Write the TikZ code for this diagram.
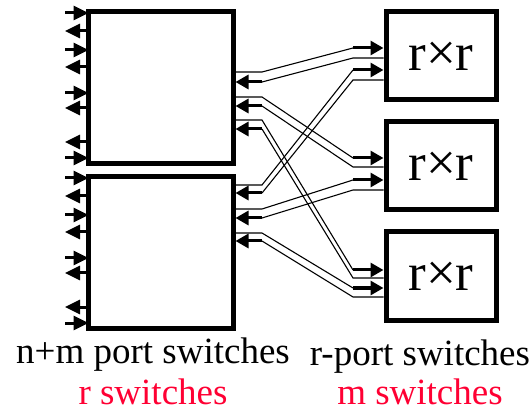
\documentclass[tikz,border=0pt]{standalone}
\usepackage{fontspec}
\setmainfont{Liberation Serif}
\usetikzlibrary{arrows.meta,calc}
\definecolor{labelred}{RGB}{255,0,51}
\begin{document}
\begin{tikzpicture}[x=1pt,y=-1pt,
  bigsw/.style={draw,line width=5pt,minimum width=145pt,minimum height=152pt,inner sep=0pt},
  smallsw/.style={draw,line width=5pt,minimum width=110pt,minimum height=88pt,inner sep=0pt,font=\fontsize{53}{53}\selectfont},
  stub/.style={line width=3pt,-{Triangle[length=15pt,width=14pt]}},
  wire/.style={line width=1.1pt},
  wirehead/.style={line width=3pt,-{Triangle[length=13pt,width=14pt]}},
  lab/.style={anchor=base,font=\fontsize{37}{37}\selectfont,inner sep=0pt}]
\useasboundingbox (0,0) rectangle (532,411);
% switches
\node[bigsw] (L1) at (160.5,88) {};
\node[bigsw] (L2) at (160.5,252.5) {};
\node[smallsw] (R1) at (441,56) {r×r};
\node[smallsw] (R2) at (441,166) {r×r};
\node[smallsw] (R3) at (441,276) {r×r};
% left stubs
\foreach \b/\o in {L1/0,L2/165}{
  \foreach \y in {13,50,93,158}{
    \draw[stub] (65,\y+\o) -- ($(\b.west |- 0,\y+\o)+(3,0)$);
  }
  \foreach \y in {31,67,108,142}{
    \draw[stub] (\b.west |- 0,\y+\o) -- (65,\y+\o);
  }
}
% links: left box, upper y, lower y, right box, upper y, lower y
\foreach \lb/\yu/\yl/\rb/\ru/\rl in {L1/72/82/R1/48/58, L1/97/106/R2/158/167, L1/120/129/R3/270/278,
                                    L2/185/193/R1/70/80, L2/209/218/R2/180/190, L2/233/241/R3/288/297}{
  \draw[wire] (\lb.east |- 0,\yu) -- (262,\yu) -- (353,\ru);
  \draw[wirehead] (353,\ru) -- (\rb.west |- 0,\ru);
  \draw[wire] (\rb.west |- 0,\rl) -- (353,\rl) -- (262,\yl);
  \draw[wirehead] (262,\yl) -- (\lb.east |- 0,\yl);
}
% labels
\node[lab] (t1) at (153,363) {n+m port switches};
\node[lab,text=labelred] (t2) at (153,404) {r switches};
\node[lab] (t3) at (420,365) {r-port switches};
\node[lab,text=labelred] (t4) at (420,404) {m switches};
\end{tikzpicture}
\end{document}
